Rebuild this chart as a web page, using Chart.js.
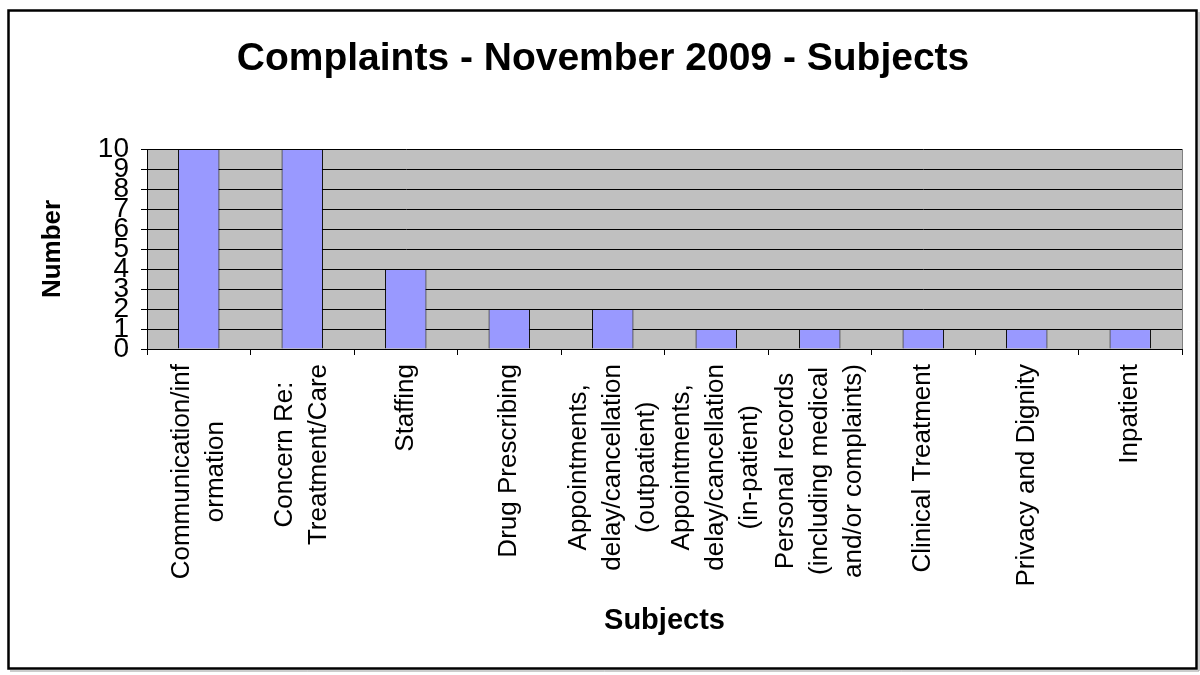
<!DOCTYPE html>
<html>
<head>
<meta charset="utf-8">
<title>Complaints - November 2009 - Subjects</title>
<script src="https://cdn.jsdelivr.net/npm/chart.js@4/dist/chart.umd.min.js"></script>
<style>
  html, body { margin: 0; padding: 0; background: #ffffff; }
  canvas { display: block; }
</style>
</head>
<body>
<canvas id="chart" width="1200" height="675"></canvas>
<script>
// Complaint subjects (multi-line category labels)
const subjects = [
  ['Communication/inf', 'ormation'],
  ['Concern Re:', 'Treatment/Care'],
  ['Staffing'],
  ['Drug Prescribing'],
  ['Appointments,', 'delay/cancellation', '(outpatient)'],
  ['Appointments,', 'delay/cancellation', '(in-patient)'],
  ['Personal records', '(including medical', 'and/or complaints)'],
  ['Clinical Treatment'],
  ['Privacy and Dignity'],
  ['Inpatient']
];

// Number of complaints per subject
const complaintCounts = [10, 10, 4, 2, 2, 1, 1, 1, 1, 1];

// Value axis range
const valueMin = 0;
const valueMax = 10;
const valueStep = 1;

const FONT = '"Liberation Sans", Arial, sans-serif';

// Page frame, grey plot background
const framePlugin = {
  id: 'frame',
  beforeDraw(chart) {
    const { ctx, chartArea: a } = chart;
    ctx.save();
    ctx.fillStyle = '#ffffff';
    ctx.fillRect(0, 0, chart.width, chart.height);
    ctx.fillStyle = '#c0c0c0';
    ctx.fillRect(a.left, a.top, a.right - a.left, a.bottom - a.top);
    ctx.strokeStyle = '#808080';
    ctx.lineWidth = 1;
    ctx.beginPath();
    ctx.moveTo(a.right + 0.5, a.top);
    ctx.lineTo(a.right + 0.5, a.bottom);
    ctx.stroke();
    // outer border with a faint shadow
    ctx.strokeStyle = '#9a9a9a';
    ctx.lineWidth = 1;
    ctx.beginPath();
    ctx.moveTo(1199, 12);
    ctx.lineTo(1199, 671);
    ctx.lineTo(10, 671);
    ctx.stroke();
    ctx.strokeStyle = '#000000';
    ctx.lineWidth = 2.5;
    ctx.strokeRect(8.5, 10.5, 1188, 658);
    ctx.restore();
  }
};

// Category labels: rotated, lines centred within each label block
const categoryLabelPlugin = {
  id: 'categoryLabels',
  afterDraw(chart) {
    const { ctx } = chart;
    const xs = chart.scales.x;
    const labels = chart.data.labels;
    const lineH = 34;
    const topY = 364;
    ctx.save();
    ctx.font = '26px ' + FONT;
    ctx.fillStyle = '#000000';
    ctx.textBaseline = 'middle';
    ctx.textAlign = 'center';
    labels.forEach((lines, i) => {
      const cx = xs.getPixelForValue(i);
      const maxW = Math.max(...lines.map(l => ctx.measureText(l).width));
      ctx.save();
      ctx.translate(cx, topY);
      ctx.rotate(-Math.PI / 2);
      lines.forEach((line, j) => {
        const offset = (j - (lines.length - 1) / 2) * lineH;
        ctx.fillText(line, -maxW / 2, offset);
      });
      ctx.restore();
    });
    ctx.restore();
  }
};

new Chart(document.getElementById('chart'), {
  type: 'bar',
  data: {
    labels: subjects,
    datasets: [{
      data: complaintCounts,
      backgroundColor: '#9999ff',
      borderColor: '#000000',
      borderWidth: 1,
      categoryPercentage: 1.0,
      barPercentage: 0.4
    }]
  },
  options: {
    responsive: false,
    animation: false,
    devicePixelRatio: 1,
    layout: { padding: { left: 6, right: 0, top: 0, bottom: 35 } },
    plugins: {
      legend: { display: false },
      tooltip: { enabled: false },
      title: {
        display: true,
        text: 'Complaints - November 2009 - Subjects',
        color: '#000000',
        font: { family: FONT, size: 39, weight: 'bold', lineHeight: 1.2 },
        padding: { top: 36, bottom: 66.2 }
      }
    },
    scales: {
      x: {
        offset: true,
        afterFit(scale) { scale.height = 291; },
        border: { display: true, color: '#000000', width: 1 },
        grid: {
          offset: true,
          drawOnChartArea: false,
          drawTicks: true,
          tickLength: 6,
          color: '#000000'
        },
        ticks: { display: false },
        title: {
          display: true,
          text: 'Subjects',
          color: '#000000',
          font: { family: FONT, size: 29, weight: 'bold', lineHeight: 1.2 },
          padding: { top: 0, bottom: 1.6 }
        }
      },
      y: {
        min: valueMin,
        max: valueMax,
        afterFit(scale) { scale.width = 141; },
        border: { display: true, color: '#000000', width: 1 },
        grid: {
          color: '#000000',
          lineWidth: 1,
          drawTicks: true,
          tickLength: 6
        },
        ticks: {
          stepSize: valueStep,
          autoSkip: false,
          padding: 12,
          color: '#000000',
          font: { family: FONT, size: 28 }
        },
        title: {
          display: true,
          text: 'Number',
          color: '#000000',
          font: { family: FONT, size: 26, weight: 'bold', lineHeight: 1.2 },
          padding: { top: 31.4, bottom: 0 }
        }
      },
      // right-hand gutter beside the plot area
      gutter: {
        type: 'linear',
        position: 'right',
        afterFit(scale) { scale.width = 18; },
        border: { display: false },
        grid: { display: false },
        ticks: { display: false }
      }
    }
  },
  plugins: [framePlugin, categoryLabelPlugin]
});
</script>
</body>
</html>
